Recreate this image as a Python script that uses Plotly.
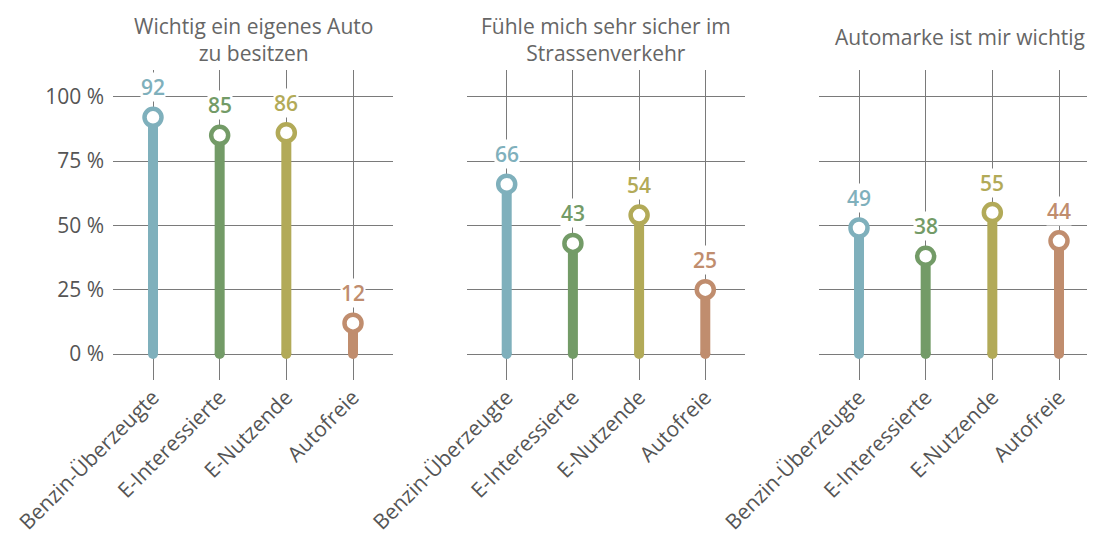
import plotly.graph_objects as go

categories = ["Benzin-Überzeugte", "E-Interessierte", "E-Nutzende", "Autofreie"]
colors = ["#7FB0BC", "#739B67", "#B2AA58", "#C08D6E"]
titles = ["Wichtig ein eigenes Auto<br>zu besitzen",
          "Fühle mich sehr sicher im<br>Strassenverkehr",
          "Automarke ist mir wichtig"]
values = [
    [92, 85, 86, 12],
    [66, 43, 54, 25],
    [49, 38, 55, 44],
]
ytickvals = [0, 25, 50, 75, 100]
yticktext = ["0 %", "25 %", "50 %", "75 %", "100 %"]

W, H = 1095, 545
OFF = 8  # page body margin offset
FONT = "Open Sans"
GRID = "#7a7a7a"
TXT = "#555555"

def px(x):
    return (x - OFF) / W

def py(y):
    return 1 - (y - OFF) / H

domains = [(px(113), px(393)), (px(467), px(745)), (px(819), px(1099))]
xranges = [[-0.6, 3.6], [-0.6, 3.6], [-0.6, 3.6]]
ydom = [py(380), py(70)]
yrange = [-10.1, 110.4]
title_x = [253, 606, 960]
title_y = [39, 39, 37]

fig = go.Figure()
annotations = []
for p in range(3):
    xa = "x" if p == 0 else f"x{p+1}"
    ya = "y" if p == 0 else f"y{p+1}"
    for i, cat in enumerate(categories):
        v = values[p][i]
        c = colors[i]
        fig.add_trace(go.Scatter(x=[cat, cat], y=[0, v], mode="lines",
                                 line=dict(color=c, width=10),
                                 xaxis=xa, yaxis=ya, showlegend=False, hoverinfo="skip"))
        fig.add_trace(go.Scatter(x=[cat], y=[0], mode="markers",
                                 marker=dict(color=c, size=10, line=dict(width=0)),
                                 xaxis=xa, yaxis=ya, showlegend=False, hoverinfo="skip"))
        fig.add_trace(go.Scatter(x=[cat], y=[v], mode="markers",
                                 marker=dict(color="white", size=17, line=dict(color=c, width=4.5)),
                                 xaxis=xa, yaxis=ya, showlegend=False,
                                 hovertemplate=f"{cat}: {v}<extra></extra>"))
        annotations.append(dict(x=cat, y=v, xref=xa, yref=ya, text=str(v),
                                showarrow=False, yshift=30, yanchor="middle",
                                font=dict(family=FONT, size=21, color=c, weight=600),
                                bgcolor="white", borderpad=0))
    annotations.append(dict(x=px(title_x[p]), y=py(title_y[p]), xref="paper", yref="paper",
                            text=titles[p], showarrow=False, xanchor="center", yanchor="middle",
                            font=dict(family=FONT, size=21, color="#666666")))

layout = dict(
    width=W, height=H,
    margin=dict(l=0, r=0, t=0, b=0),
    paper_bgcolor="white", plot_bgcolor="white",
    font=dict(family=FONT, color=TXT),
    annotations=annotations,
    showlegend=False,
)
for p in range(3):
    kx = "xaxis" if p == 0 else f"xaxis{p+1}"
    ky = "yaxis" if p == 0 else f"yaxis{p+1}"
    ya = "y" if p == 0 else f"y{p+1}"
    xa = "x" if p == 0 else f"x{p+1}"
    layout[kx] = dict(domain=list(domains[p]), range=xranges[p], type="category",
                      categoryorder="array", categoryarray=categories,
                      showgrid=True, gridcolor=GRID, gridwidth=1, zeroline=False,
                      showline=False, ticks="", tickangle=-45, automargin=False,
                      tickfont=dict(family=FONT, size=21, color=TXT), anchor=ya, fixedrange=True)
    layout[ky] = dict(domain=ydom, range=yrange, tickvals=ytickvals, ticktext=yticktext,
                      showticklabels=(p == 0), showgrid=True, gridcolor=GRID, gridwidth=1,
                      zeroline=False, showline=False, ticks="", ticklabelstandoff=8,
                      automargin=False,
                      tickfont=dict(family=FONT, size=21, color=TXT), anchor=xa, fixedrange=True)

fig.update_layout(**layout)
fig.write_html("out.html")
